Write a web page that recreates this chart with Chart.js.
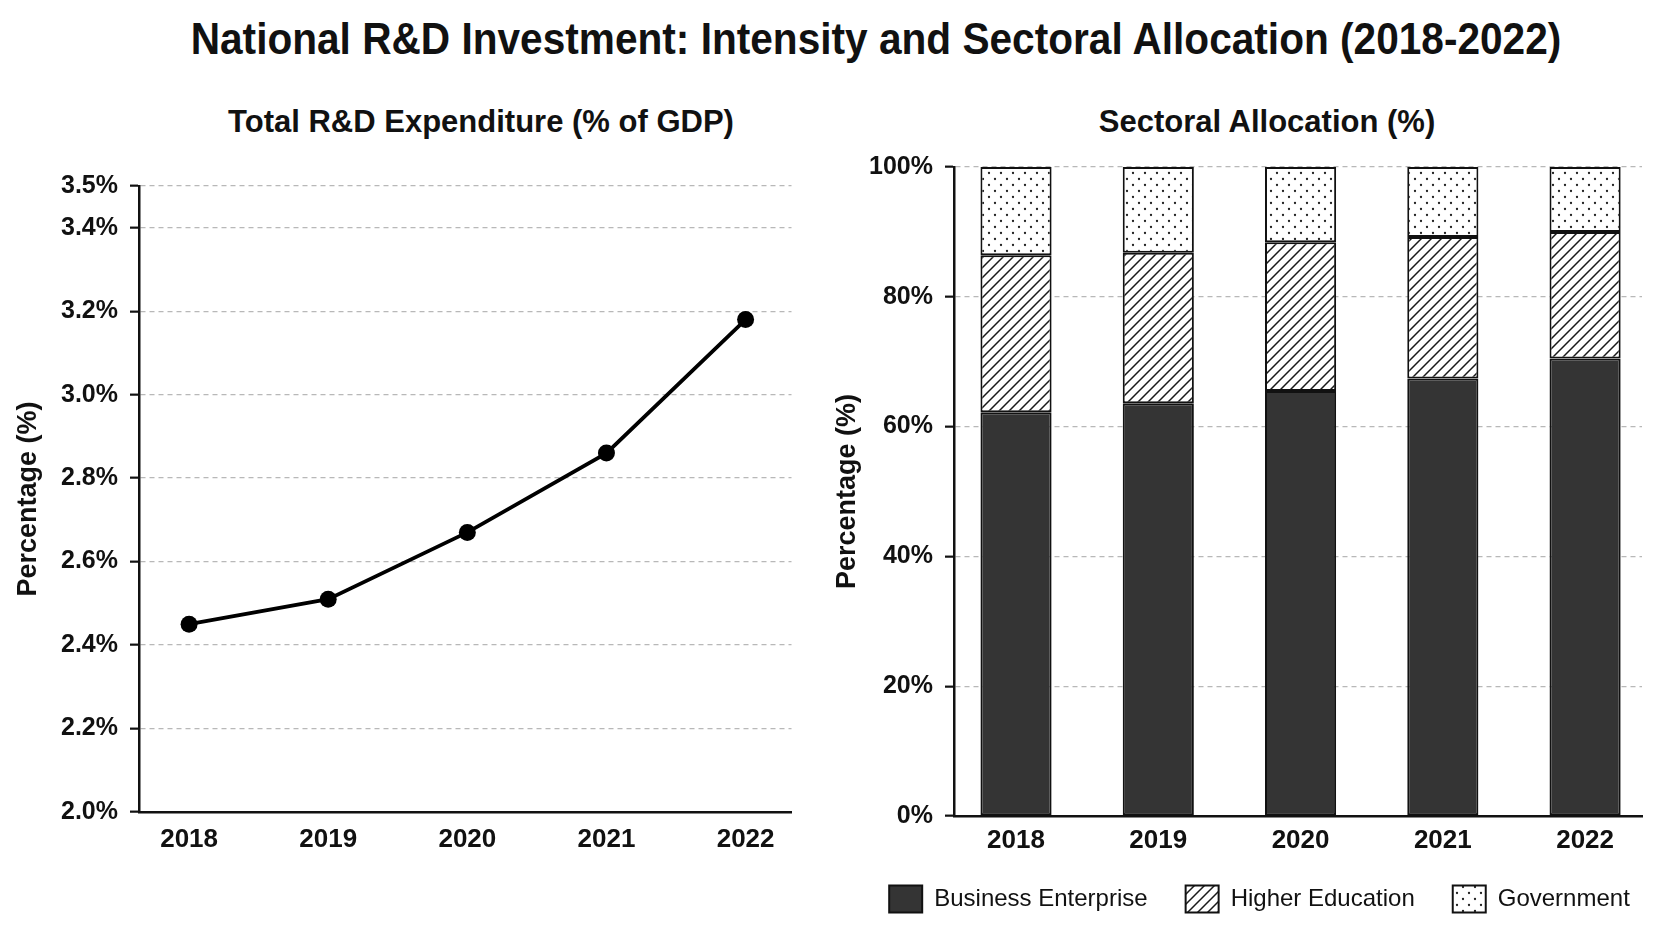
<!DOCTYPE html>
<html><head><meta charset="utf-8">
<script src="https://cdn.jsdelivr.net/npm/chart.js@4.4.0/dist/chart.umd.min.js"></script>
<style>
html,body{margin:0;padding:0;background:#fff;width:1672px;height:941px;overflow:hidden;}
.t{position:absolute;white-space:nowrap;color:#111;}
#main{left:876px;top:17px;font:bold 44px/44px 'Liberation Sans',Arial,sans-serif;transform:translateX(-50%) scaleX(0.923);}
.sub{top:106px;font:bold 31px/31px 'Liberation Sans',Arial,sans-serif;transform:translateX(-50%);}
canvas{position:absolute;}
</style></head><body>
<div id="main" class="t">National R&amp;D Investment: Intensity and Sectoral Allocation (2018-2022)</div>
<div class="t sub" style="left:481px">Total R&amp;D Expenditure (% of GDP)</div>
<div class="t sub" style="left:1267px">Sectoral Allocation (%)</div>
<canvas id="c1" width="800" height="720" style="left:0;top:140px"></canvas>
<canvas id="c2" width="872" height="807" style="left:800px;top:140px"></canvas>
<script>
// ---- data ----
const years = [2018, 2019, 2020, 2021, 2022];
const yearLabels = ['2018', '2019', '2020', '2021', '2022'];
const rdIntensity = [2.45, 2.51, 2.67, 2.86, 3.18];
const intensityTicks = [2.0, 2.2, 2.4, 2.6, 2.8, 3.0, 3.2, 3.4, 3.5];
const intensityTickLabels = ['2.0%', '2.2%', '2.4%', '2.6%', '2.8%', '3.0%', '3.2%', '3.4%', '3.5%'];
const businessShare = [62.2, 63.6, 65.5, 67.4, 70.5];
const higherEdShare = [24.2, 23.2, 22.9, 21.8, 19.5];
const governmentShare = [13.6, 13.2, 11.6, 10.8, 10.0];
const shareTicks = [0, 20, 40, 60, 80, 100];
const shareTickLabels = ['0%', '20%', '40%', '60%', '80%', '100%'];
const seriesNames = ['Business Enterprise', 'Higher Education', 'Government'];

// ---- styles ----
const REG = "'Liberation Sans',Arial,sans-serif";
Chart.defaults.color = '#111';
Chart.defaults.font.family = REG;

function hatchPattern() {
  const s = 10, c = document.createElement('canvas'); c.width = c.height = s;
  const g = c.getContext('2d');
  g.fillStyle = '#fff'; g.fillRect(0, 0, s, s);
  g.strokeStyle = '#1a1a1a'; g.lineWidth = 1.5;
  g.beginPath();
  g.moveTo(0, s); g.lineTo(s, 0);
  g.moveTo(-s / 2, s / 2); g.lineTo(s / 2, -s / 2);
  g.moveTo(s / 2, s * 1.5); g.lineTo(s * 1.5, s / 2);
  g.stroke();
  return g.createPattern(c, 'repeat');
}
function dotPattern() {
  const s = 12, c = document.createElement('canvas'); c.width = c.height = s;
  const g = c.getContext('2d');
  g.fillStyle = '#fff'; g.fillRect(0, 0, s, s);
  g.fillStyle = '#222';
  [[3, 3], [9, 9]].forEach(([x, y]) => { g.beginPath(); g.arc(x, y, 1.15, 0, Math.PI * 2); g.fill(); });
  return g.createPattern(c, 'repeat');
}

const gridStyle = { color: '#b8b8b8', lineWidth: 1.3, drawTicks: true, tickLength: 9, tickColor: '#111', tickWidth: 2.2, tickBorderDash: [] };
const borderStyle = { width: 2.5, color: '#111', dash: [5, 4] };
const yTitle = (pad) => ({ display: true, text: 'Percentage (%)', font: { family: REG, size: 27, weight: 'bold' }, padding: { top: pad, bottom: 0 }, color: '#111' });
const tickFontY = { family: REG, size: 25, weight: 'bold' };
const tickFontX = { family: REG, size: 26, weight: 'bold' };
const yearAxisTicks = s => { s.ticks = years.map(v => ({ value: v })); };

// ---- left chart ----
new Chart(document.getElementById('c1'), {
  type: 'line',
  data: {
    datasets: [{
      data: years.map((y, i) => ({ x: y, y: rdIntensity[i] })),
      borderColor: '#000', backgroundColor: '#000', borderWidth: 3.8,
      pointRadius: 8.5, pointBackgroundColor: '#000', pointBorderWidth: 0, tension: 0
    }]
  },
  options: {
    responsive: false, animation: false, devicePixelRatio: 1,
    layout: { padding: { top: 46, right: 8, left: 0, bottom: 0 } },
    plugins: { legend: { display: false }, tooltip: { enabled: false } },
    scales: {
      x: {
        type: 'linear', min: 2017.64, max: 2022.33,
        afterBuildTicks: yearAxisTicks,
        afterFit: s => { s.height = 48; },
        grid: { display: false, drawTicks: false },
        border: { width: 2.5, color: '#111' },
        ticks: { padding: 12, font: tickFontX, callback: (v, i) => yearLabels[i] }
      },
      y: {
        min: 2.0, max: 3.5,
        afterBuildTicks: s => { s.ticks = intensityTicks.map(v => ({ value: v })); },
        afterFit: s => { s.width = 139; },
        grid: gridStyle, border: borderStyle,
        title: yTitle(12.8),
        ticks: { padding: 12, font: tickFontY, callback: (v, i) => intensityTickLabels[i] }
      }
    }
  }
});

// ---- right chart ----
const legendShift = {
  id: 'legendShift',
  afterLayout(chart) {
    const l = chart.legend;
    if (l) { l.left += 38.5; l.right += 38.5; l.top -= 24.5; l.bottom -= 24.5; }
  }
};
const barCommon = { borderColor: '#111', borderWidth: 2, borderSkipped: false, barPercentage: 0.5, categoryPercentage: 1.0 };
const toPoints = arr => years.map((y, i) => ({ x: y, y: arr[i] }));
new Chart(document.getElementById('c2'), {
  type: 'bar',
  data: {
    datasets: [
      Object.assign({ label: seriesNames[0], data: toPoints(businessShare), backgroundColor: '#343434' }, barCommon),
      Object.assign({ label: seriesNames[1], data: toPoints(higherEdShare), backgroundColor: hatchPattern() }, barCommon),
      Object.assign({ label: seriesNames[2], data: toPoints(governmentShare), backgroundColor: dotPattern() }, barCommon)
    ]
  },
  options: {
    responsive: false, animation: false, devicePixelRatio: 1,
    layout: { padding: { top: 25, right: 30, left: 0, bottom: 0 } },
    plugins: {
      tooltip: { enabled: false },
      legend: {
        position: 'bottom',
        labels: { boxWidth: 33, boxHeight: 27, padding: 38, color: '#111', font: { family: REG, size: 24 } }
      }
    },
    scales: {
      x: {
        type: 'linear', stacked: true, offset: false, min: 2017.564, max: 2022.40,
        afterBuildTicks: yearAxisTicks,
        afterFit: s => { s.height = 56; },
        grid: { display: false, drawTicks: false },
        border: { width: 2.5, color: '#111' },
        ticks: { padding: 9, font: tickFontX, callback: (v, i) => yearLabels[i] }
      },
      y: {
        stacked: true, min: 0, max: 100,
        afterBuildTicks: s => { s.ticks = shareTicks.map(v => ({ value: v })); },
        afterFit: s => { s.width = 154; },
        grid: gridStyle, border: borderStyle,
        title: yTitle(31.2),
        ticks: { padding: 12, font: tickFontY, callback: (v, i) => shareTickLabels[i] }
      }
    }
  },
  plugins: [legendShift]
});
</script>
</body></html>
